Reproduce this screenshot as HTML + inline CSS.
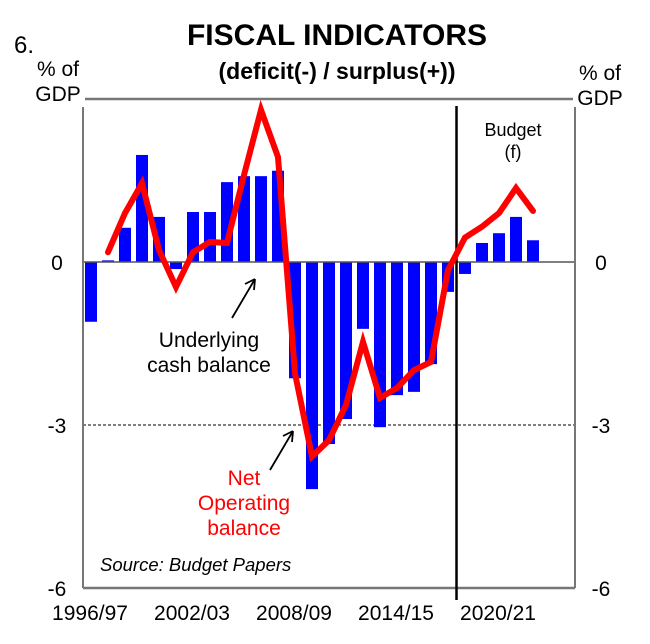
<!DOCTYPE html>
<html><head><meta charset="utf-8"><style>
body{margin:0;background:#fff;}
svg{display:block;font-family:"Liberation Sans",Arial,sans-serif;}
</style></head><body>
<svg id="chart" width="650" height="644" viewBox="0 0 650 644">
<text x="14" y="53" font-size="24">6.</text>
<text x="337" y="45" font-size="30" font-weight="bold" text-anchor="middle">FISCAL INDICATORS</text>
<text x="337" y="79" font-size="23" font-weight="bold" text-anchor="middle">(deficit(-) / surplus(+))</text>
<text x="58" y="76" font-size="21" text-anchor="middle"><tspan x="58">% of</tspan><tspan x="58" dy="25">GDP</tspan></text>
<text x="600" y="80" font-size="21" text-anchor="middle"><tspan x="600">% of</tspan><tspan x="600" dy="25">GDP</tspan></text>
<g id="plot"></g>
<text x="100" y="571" font-size="18.5" font-style="italic">Source: Budget Papers</text>
</svg>
<script>
const years = ["1996/97","1997/98","1998/99","1999/00","2000/01","2001/02","2002/03","2003/04","2004/05","2005/06","2006/07","2007/08","2008/09","2009/10","2010/11","2011/12","2012/13","2013/14","2014/15","2015/16","2016/17","2017/18","2018/19","2019/20","2020/21","2021/22","2022/23"];
const cashBalance = [-1.1,0.03,0.63,1.97,0.83,-0.13,0.92,0.92,1.47,1.58,1.58,1.68,-2.14,-4.18,-3.35,-2.89,-1.23,-3.04,-2.45,-2.39,-1.88,-0.55,-0.22,0.35,0.53,0.83,0.4];
const netOperating = [null,0.18,0.9,1.45,0.22,-0.46,0.18,0.37,0.35,1.6,2.8,1.93,-2.05,-3.58,-3.28,-2.63,-1.47,-2.5,-2.32,-1.99,-1.84,-0.15,0.45,0.65,0.9,1.36,0.94];
const yTicks = [0,-3,-6];
const xLabels = ["1996/97","2002/03","2008/09","2014/15","2020/21"];
const budgetStart = "2018/19";

const NS="http://www.w3.org/2000/svg";
const g=document.getElementById('plot');
const L=83,R=575,T=99,B=588;
const xOf=i=>91+i*17;
const yOf=v=>262-v*(B-262)/6;
function mk(tag,attrs,parent){const e=document.createElementNS(NS,tag);for(const k in attrs)e.setAttribute(k,attrs[k]);(parent||g).appendChild(e);return e;}

let e=mk('line',{x1:L,x2:R,y1:yOf(-3),y2:yOf(-3),stroke:'#000','stroke-width':1,'stroke-dasharray':'3,2'});


cashBalance.forEach((v,i)=>{
  const y0=yOf(0),y1=yOf(v);
  const b=mk('rect',{x:xOf(i)-6,y:Math.min(y0,y1),width:12,height:Math.abs(y1-y0),fill:'#0000ff'});
  
  
});
e=mk('line',{x1:L,x2:R,y1:yOf(0),y2:yOf(0),stroke:'#555','stroke-width':1.5});


e=mk('line',{x1:L,x2:L,y1:T+8,y2:B,stroke:'#777','stroke-width':2});


e=mk('line',{x1:R,x2:R,y1:T+8,y2:B,stroke:'#777','stroke-width':2});


e=mk('line',{x1:L,x2:R,y1:B,y2:B,stroke:'#777','stroke-width':2.5});


e=mk('line',{x1:85,x2:573,y1:T,y2:T,stroke:'#777','stroke-width':2.5});


yTicks.forEach(t=>{
  let a=mk('text',{x:57,y:yOf(t)+8,'font-size':21,'text-anchor':'middle'});a.textContent=t;
  
  
  let b=mk('text',{x:601,y:yOf(t)+8,'font-size':21,'text-anchor':'middle'});b.textContent=t;
  
  
});
xLabels.forEach(l=>{
  const i=years.indexOf(l);
  let a=mk('text',{x:xOf(i)-1,y:620,'font-size':21,'text-anchor':'middle'});a.textContent=l;
  
  
});
const bi=years.indexOf(budgetStart);
const bx=(xOf(bi)+xOf(bi-1))/2;
e=mk('line',{x1:bx,x2:bx,y1:106,y2:600,stroke:'#000','stroke-width':2.5});


let pts=[];netOperating.forEach((v,i)=>{if(v!==null)pts.push(xOf(i)+','+yOf(v));});
e=mk('polyline',{points:pts.join(' '),fill:'none',stroke:'#ff0000','stroke-width':6,'stroke-linejoin':'miter','stroke-linecap':'round'});


e=mk('text',{x:513,y:136,'font-size':18,'text-anchor':'middle'});e.innerHTML='<tspan x="513">Budget</tspan><tspan x="513" dy="22">(f)</tspan>';


e=mk('text',{x:209,y:347,'font-size':21,'text-anchor':'middle'});e.innerHTML='<tspan x="209">Underlying</tspan><tspan x="209" dy="25">cash balance</tspan>';


e=mk('text',{x:244,y:485,'font-size':21,'text-anchor':'middle',fill:'#ff0000'});e.innerHTML='<tspan x="244">Net</tspan><tspan x="244" dy="25">Operating</tspan><tspan x="244" dy="25">balance</tspan>';


e=mk('path',{d:'M232 318 L255 279 M255 279 L245 284 M255 279 L254 290',stroke:'#000','stroke-width':1.8,fill:'none'});


e=mk('path',{d:'M270 470 L293 431 M293 431 L283 436 M293 431 L292 442',stroke:'#000','stroke-width':1.8,fill:'none'});


</script>
</body></html>
